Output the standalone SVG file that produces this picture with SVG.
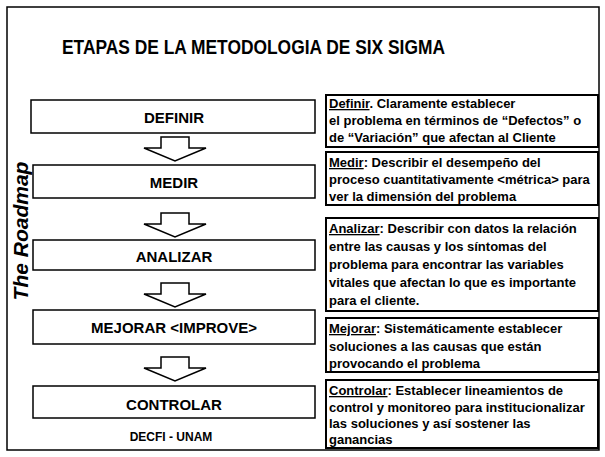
<svg xmlns="http://www.w3.org/2000/svg" width="605" height="457" viewBox="0 0 605 457">
<style>
text{font-family:"Liberation Sans",Arial,sans-serif;font-weight:bold;fill:#000}
.step{font-size:15px;text-anchor:middle}
.desc{font-size:13px}
.box{fill:#fff;stroke:#000;stroke-width:1.5}
.dbox{fill:#fff;stroke:#000;stroke-width:2}
.arrow{fill:#fff;stroke:#000;stroke-width:1.5;stroke-linejoin:miter}
.u{text-decoration:underline}
</style>
<defs>
<path id="arr" d="M-14,0 H14 V11 H31 L0,24 L-31,11 H-14 Z"/>
</defs>
<rect x="0" y="0" width="605" height="457" fill="#fff"/>
<rect x="7" y="7" width="592" height="443" fill="none" stroke="#000" stroke-width="1.5"/>
<text id="title" x="62" y="54" font-size="20" textLength="383" lengthAdjust="spacingAndGlyphs">ETAPAS DE LA METODOLOGIA DE SIX SIGMA</text>
<text id="roadmap" transform="translate(28,231) rotate(-90)" font-size="21" font-style="italic" text-anchor="middle">The Roadmap</text>

<g id="definir"><rect class="box" x="31" y="100" width="284" height="33"/><text class="step" x="174" y="123">DEFINIR</text></g>
<g id="medir"><rect class="box" x="33" y="165" width="282" height="33"/><text class="step" x="174" y="188">MEDIR</text></g>
<g id="analizar"><rect class="box" x="33" y="240" width="282" height="30"/><text class="step" x="174" y="262">ANALIZAR</text></g>
<g id="mejorar"><rect class="box" x="33" y="310" width="282" height="34"/><text class="step" x="174" y="333">MEJORAR &lt;IMPROVE&gt;</text></g>
<g id="controlar"><rect class="box" x="33" y="386" width="282" height="32"/><text class="step" x="174" y="410">CONTROLAR</text></g>
<text id="decfi" x="171" y="441" font-size="12" text-anchor="middle">DECFI - UNAM</text>

<g id="connectors">
<use href="#arr" class="arrow" x="175" y="137"/>
<use href="#arr" class="arrow" x="175" y="213"/>
<use href="#arr" class="arrow" x="175" y="283"/>
<use href="#arr" class="arrow" x="175" y="357"/>
</g>

<g id="d-definir"><rect class="dbox" x="326" y="95" width="272" height="52"/>
<text class="desc" x="329" y="108"><tspan class="u">Definir</tspan>.  Claramente establecer</text>
<text class="desc" x="329" y="125">el problema en términos de “Defectos”  o</text>
<text class="desc" x="329" y="142">de “Variación” que afectan al Cliente</text></g>
<g id="d-medir"><rect class="dbox" x="326" y="152" width="272" height="53"/>
<text class="desc" x="329" y="167"><tspan class="u">Medir</tspan>:  Describir el desempeño del</text>
<text class="desc" x="329" y="184">proceso cuantitativamente &lt;métrica&gt; para</text>
<text class="desc" x="329" y="201">ver la dimensión del problema</text></g>
<g id="d-analizar"><rect class="dbox" x="326" y="218" width="272" height="93"/>
<text class="desc" x="329" y="233"><tspan class="u">Analizar</tspan>:  Describir con datos la relación</text>
<text class="desc" x="329" y="251">entre las causas y los síntomas del</text>
<text class="desc" x="329" y="269">problema para encontrar las variables</text>
<text class="desc" x="329" y="287">vitales que afectan lo que es importante</text>
<text class="desc" x="329" y="305">para el cliente.</text></g>
<g id="d-mejorar"><rect class="dbox" x="326" y="318" width="272" height="54"/>
<text class="desc" x="329" y="333"><tspan class="u">Mejorar</tspan>:  Sistemáticamente establecer</text>
<text class="desc" x="329" y="351">soluciones a las causas que están</text>
<text class="desc" x="329" y="368">provocando el problema</text></g>
<g id="d-controlar"><rect class="dbox" x="326" y="380" width="272" height="68"/>
<text class="desc" x="329" y="395"><tspan class="u">Controlar</tspan>:  Establecer lineamientos de</text>
<text class="desc" x="329" y="412">control y monitoreo para institucionalizar</text>
<text class="desc" x="329" y="428">las soluciones y así sostener las</text>
<text class="desc" x="329" y="444">ganancias</text></g>
</svg>
